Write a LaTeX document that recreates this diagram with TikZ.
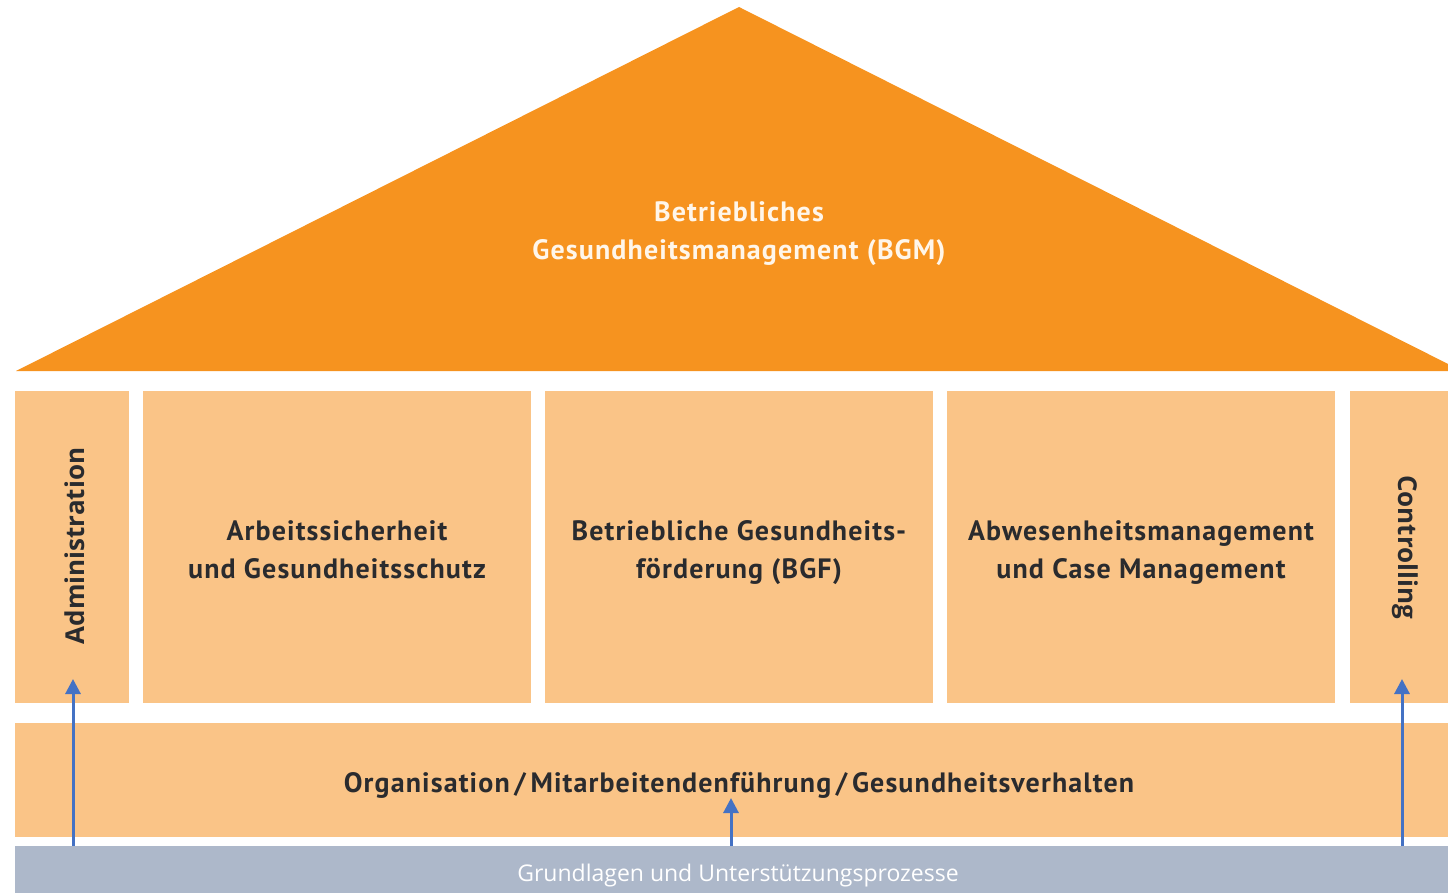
\documentclass[tikz,border=0pt]{standalone}
\usepackage{fontspec}
\setmainfont{PT Sans}[LetterSpace=4]
\newfontfamily\vertfont{Open Sans}
\newfontfamily\basefont{Open Sans}
\usetikzlibrary{arrows.meta}
\definecolor{roof}{HTML}{F6931F}
\definecolor{pillar}{HTML}{FAC487}
\definecolor{ground}{HTML}{ADB8CA}
\definecolor{ink}{HTML}{2A2B2E}
\definecolor{arrowblue}{HTML}{4472C4}
\definecolor{rooftext}{HTML}{FFF6EA}
\tikzset{
  pillarbox/.style={fill=pillar, draw=none},
  boxtext/.style={text=ink, font=\bfseries\fontsize{28}{38}\selectfont, align=center, inner sep=0pt, anchor=base},
  sidetext/.style={text=ink, font=\vertfont\bfseries\fontsize{26}{30}\selectfont, inner sep=0pt},
  uparrow/.style={draw=arrowblue, line width=3pt, -{Triangle[width=15pt,length=15pt]}},
}
\begin{document}
\begin{tikzpicture}[x=1pt,y=-1pt]
\useasboundingbox (0,0) rectangle (1448,893);
% roof
\fill[roof] (16,371) -- (739,7) -- (1462,371) -- cycle;
\node[text=rooftext, font=\bfseries\fontsize{28}{38}\selectfont, align=center, inner sep=0pt, anchor=base]
  (title) at (739,260) {Betriebliches\\Gesundheitsmanagement (BGM)};
% pillars
\fill[pillarbox] (15,391) rectangle (129,703);
\fill[pillarbox] (143,391) rectangle (531,703);
\fill[pillarbox] (545,391) rectangle (933,703);
\fill[pillarbox] (947,391) rectangle (1335,703);
\fill[pillarbox] (1350,391) rectangle (1460,703);
\node[sidetext, rotate=90] (admin) at (75,546) {Administration};
\node[sidetext, rotate=-90] (contr) at (1405,547) {Controlling};
\node[boxtext] (asgs) at (337,578) {Arbeitssicherheit\\und Gesundheitsschutz};
\node[boxtext] (bgf) at (739,578) {Betriebliche Gesundheits-\\förderung (BGF)};
\node[boxtext] (abw) at (1141,578) {Abwesenheitsmanagement\\und Case Management};
% foundation
\fill[pillarbox] (15,723) rectangle (1460,837);
\node[boxtext] (org) at (739,792) {Organisation\,/\,Mitarbeitendenführung\,/\,Gesundheitsverhalten};
% base bar
\fill[ground] (15,846) rectangle (1460,900);
\node[text=white, font=\basefont\fontsize{23}{26}\selectfont, anchor=base, inner sep=0pt] (base) at (738,881) {Grundlagen und Unterstützungsprozesse};
% support arrows
\coordinate (a1) at (73,846);
\coordinate (a1t) at (73,679);
\coordinate (a2) at (731,846);
\coordinate (a2t) at (731,798);
\coordinate (a3) at (1402,846);
\coordinate (a3t) at (1402,679);
\draw[uparrow] (a1) -- (a1t);
\draw[uparrow] (a2) -- (a2t);
\draw[uparrow] (a3) -- (a3t);
\end{tikzpicture}
\end{document}
